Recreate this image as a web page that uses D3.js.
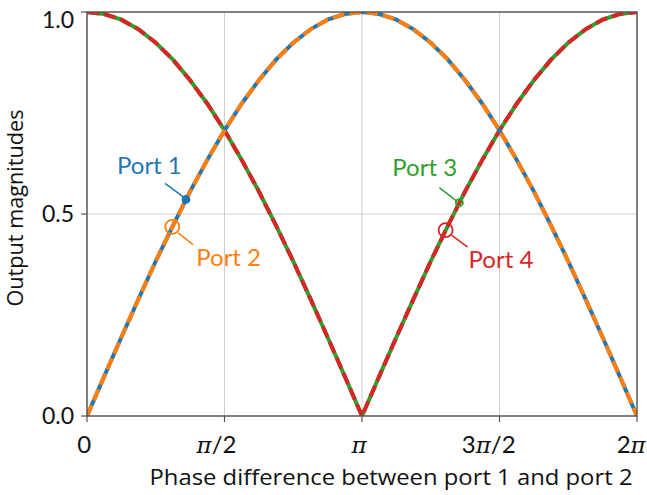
<!DOCTYPE html>
<html>
<head>
<meta charset="utf-8">
<script src="https://cdn.jsdelivr.net/npm/d3@7"></script>
<style>
    body { margin: 0; background: #fff; }
    svg { display: block; font-family: Lato, "Open Sans", sans-serif; }
</style>
</head>
<body>
<svg id="svg" width="647" height="495"></svg>
<script>
// phase difference, in units of pi
const phase = [0, 0.0625, 0.125, 0.1875, 0.25, 0.3125, 0.375, 0.4375, 0.5,
    0.5625, 0.625, 0.6875, 0.75, 0.8125, 0.875, 0.9375, 1,
    1.0625, 1.125, 1.1875, 1.25, 1.3125, 1.375, 1.4375, 1.5,
    1.5625, 1.625, 1.6875, 1.75, 1.8125, 1.875, 1.9375, 2];

// output magnitudes
const port1 = [0, 0.098, 0.195, 0.290, 0.383, 0.471, 0.556, 0.634, 0.707,
    0.773, 0.831, 0.882, 0.924, 0.957, 0.981, 0.995, 1.000,
    0.995, 0.981, 0.957, 0.924, 0.882, 0.831, 0.773, 0.707,
    0.634, 0.556, 0.471, 0.383, 0.290, 0.195, 0.098, 0];
const port2 = port1.slice();
const port3 = [1.000, 0.995, 0.981, 0.957, 0.924, 0.882, 0.831, 0.773, 0.707,
    0.634, 0.556, 0.471, 0.383, 0.290, 0.195, 0.098, 0,
    0.098, 0.195, 0.290, 0.383, 0.471, 0.556, 0.634, 0.707,
    0.773, 0.831, 0.882, 0.924, 0.957, 0.981, 0.995, 1.000];
const port4 = port3.slice();

// annotated points: [phase / pi, magnitude]
const markerPhase = [0.360, 0.310, 1.354, 1.304];
const markerValue = [0.536, 0.468, 0.528, 0.460];
const markerNames = ['Port 1', 'Port 2', 'Port 3', 'Port 4'];

const xTicks = [0, 0.5, 1, 1.5, 2];
const xTickLabels = [['0', ''], ['', 'π', '/2'], ['', 'π', ''], ['3', 'π', '/2'], ['2', 'π', '']];
const yTicks = [0, 0.5, 1];

const colors = {blue: '#1f77b4', orange: '#ff7f0e', green: '#2ca02c', red: '#d62728'};

let svg = d3.select('#svg');
let margin = {top: 12, left: 87, right: 10, bottom: 79};
let width = 647, height = 495;

let x = d3.scaleLinear().domain([0, 2]).range([margin.left, width - margin.right]);
let y = d3.scaleLinear().domain([0, 1]).range([height - margin.bottom, margin.top]);

svg.append('clipPath').attr('id', 'clip')
    .append('rect')
    .attr('x', x(0)).attr('y', y(1))
    .attr('width', x(2) - x(0)).attr('height', y(0) - y(1));

// grid
let grid = svg.append('g');
grid.selectAll('.vg').data(xTicks).join('line')
    .attr('x1', d => x(d)).attr('x2', d => x(d))
    .attr('y1', y(0)).attr('y2', y(1))
    .attr('stroke', '#cfcfcf').attr('stroke-width', 1);
grid.selectAll('.hg').data(yTicks).join('line')
    .attr('x1', x(0)).attr('x2', x(2))
    .attr('y1', d => y(d)).attr('y2', d => y(d))
    .attr('stroke', '#cfcfcf').attr('stroke-width', 1);

// curves
let line = d3.line()
    .x((d, i) => x(phase[i]))
    .y(d => y(d));

let curves = svg.append('g').attr('clip-path', 'url(#clip)');
function drawCurve(vals, color, dash) {
    curves.append('path')
        .attr('d', line(vals))
        .attr('fill', 'none')
        .attr('stroke', color)
        .attr('stroke-width', 4)
        .attr('stroke-dasharray', dash);
}
drawCurve(port3, colors.green, null);
drawCurve(port4, colors.red, '12 5');
drawCurve(port1, colors.blue, null);
drawCurve(port2, colors.orange, '12 5');

// frame
svg.append('rect')
    .attr('x', x(0)).attr('y', y(1))
    .attr('width', x(2) - x(0)).attr('height', y(0) - y(1))
    .attr('fill', 'none').attr('stroke', '#555').attr('stroke-width', 1.4);

// x axis ticks + labels
let xa = svg.append('g');
xa.selectAll('line').data(xTicks).join('line')
    .attr('x1', d => x(d)).attr('x2', d => x(d))
    .attr('y1', y(0)).attr('y2', y(0) + 6)
    .attr('stroke', '#555').attr('stroke-width', 1.2);
xa.selectAll('text').data(xTicks).join('text')
    .attr('x', d => x(d))
    .attr('y', 453)
    .attr('text-anchor', 'middle')
    .attr('font-size', 24)
    .attr('fill', '#111')
    .each(function(d, i) {
        let parts = xTickLabels[i];
        let t = d3.select(this);
        if (parts[0]) t.append('tspan').text(parts[0]);
        if (parts[1]) t.append('tspan')
            .attr('font-family', '"DejaVu Serif", serif')
            .attr('font-style', 'italic')
            .attr('font-size', 23)
            .text(parts[1]);
        if (parts[2]) t.append('tspan').text(parts[2]);
        // labels sit slightly left of their tick in the reference
        t.attr('dx', -0.2 * this.getComputedTextLength());
    });

// y axis ticks + labels
let ya = svg.append('g');
ya.selectAll('line').data(yTicks).join('line')
    .attr('x1', x(0) - 6).attr('x2', x(0))
    .attr('y1', d => y(d)).attr('y2', d => y(d))
    .attr('stroke', '#555').attr('stroke-width', 1.2);
ya.selectAll('text').data(yTicks).join('text')
    .attr('x', 74)
    .attr('y', d => Math.max(y(d), 20))
    .attr('dy', '0.36em')
    .attr('text-anchor', 'end')
    .attr('font-size', 23)
    .attr('fill', '#111')
    .text(d => d.toFixed(1));

// axis titles
svg.append('text')
    .attr('x', 391)
    .attr('y', 485)
    .attr('text-anchor', 'middle')
    .attr('font-family', '"Open Sans", sans-serif')
    .attr('font-size', 22)
    .attr('textLength', 483)
    .attr('lengthAdjust', 'spacingAndGlyphs')
    .attr('fill', '#111')
    .text('Phase difference between port 1 and port 2');

svg.append('text')
    .attr('transform', `translate(23, ${(y(0) + y(1)) / 2 - 6}) rotate(-90)`)
    .attr('text-anchor', 'middle')
    .attr('font-family', '"Open Sans", sans-serif')
    .attr('font-size', 22)
    .attr('textLength', 197)
    .attr('lengthAdjust', 'spacingAndGlyphs')
    .attr('fill', '#111')
    .text('Output magnitudes');

// annotations: marker style, text offset, connector offsets (from marker)
const markerColor = [colors.blue, colors.orange, colors.green, colors.red];
const markerRadius = [3.5, 7, 3.5, 7];
const markerFilled = [true, false, false, false];
const textOffset = [[-69, -25], [24, 39], [-67, -27], [23, 38]];
const linkFrom = [[-21, -16], [6, 6], [-20, -15], [6, 5]];
const linkTo = [[-2, -2], [21, 18], [-2, -1], [22, 17]];

let ann = svg.append('g');
markerNames.forEach(function(name, i) {
    let mx = x(markerPhase[i]), my = y(markerValue[i]);
    let c = markerColor[i];
    ann.append('line')
        .attr('x1', mx + linkFrom[i][0]).attr('y1', my + linkFrom[i][1])
        .attr('x2', mx + linkTo[i][0]).attr('y2', my + linkTo[i][1])
        .attr('stroke', c).attr('stroke-width', 1.5);
    ann.append('circle')
        .attr('cx', mx).attr('cy', my)
        .attr('r', markerRadius[i])
        .attr('fill', markerFilled[i] ? c : 'none')
        .attr('stroke', c).attr('stroke-width', 1.8);
    ann.append('text')
        .attr('x', mx + textOffset[i][0])
        .attr('y', my + textOffset[i][1])
        .attr('font-size', 24)
        .attr('fill', c)
        .text(name);
});
</script>
</body>
</html>
